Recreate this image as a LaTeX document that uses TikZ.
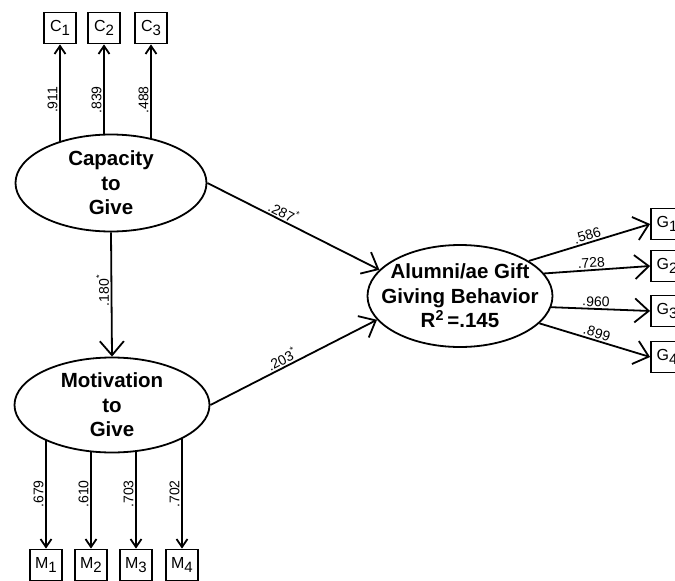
\documentclass[tikz,border=0pt]{standalone}
\usepackage{fontspec}
\setmainfont{Liberation Sans}
\usetikzlibrary{shapes.geometric,arrows.meta,backgrounds}

\tikzset{
  latent/.style={ellipse, draw, line width=1.8pt, fill=white, inner sep=-20pt,
    align=center, font=\fontsize{20.5}{24.5}\selectfont\bfseries},
  manifest/.style={draw, line width=1.8pt, fill=white, minimum width=32pt,
    minimum height=31pt, inner sep=0pt, font=\fontsize{16}{16}\selectfont},
  causal/.style={line width=1.8pt, -{Straight Barb[length=14pt,width=24pt,line width=1.8pt]}},
  loading/.style={line width=1.8pt, -{Straight Barb[length=8pt,width=11pt,line width=1.8pt]}},
  coef/.style={font=\fontsize{14}{14}\selectfont, inner sep=1.5pt},
}
\newcommand{\ind}[2]{#1\raisebox{-0.55ex}{\fontsize{15}{15}\selectfont#2}}
\newcommand{\sig}[1]{#1\raisebox{0.9ex}{\fontsize{9}{9}\selectfont*}}

\begin{document}
\begin{tikzpicture}[x=1pt,y=-1pt]
    \useasboundingbox (0,0) rectangle (675,581);
    % latent variables
    \node[latent, minimum width=191pt, minimum height=97pt] (cap) at (111,183) {Capacity\\to\\Give};
    \node[latent, minimum width=195pt, minimum height=95pt] (mot) at (112,405) {Motivation\\to\\Give};
    \node[latent, minimum width=185pt, minimum height=102pt] (alum) at (460,296)
        {Alumni/ae Gift\\Giving Behavior\\R\textsuperscript{2}\,=.145};
    % indicators
    \node[manifest] (c1) at (60,28) {\ind{C}{1}};
    \node[manifest] (c2) at (104,28) {\ind{C}{2}};
    \node[manifest] (c3) at (151,28) {\ind{C}{3}};
    \node[manifest] (m1) at (46,565) {\ind{M}{1}};
    \node[manifest] (m2) at (91,565) {\ind{M}{2}};
    \node[manifest] (m3) at (136,565) {\ind{M}{3}};
    \node[manifest] (m4) at (182,565) {\ind{M}{4}};
    \node[manifest] (g1) at (667,224) {\ind{G}{1}};
    \node[manifest] (g2) at (667,266) {\ind{G}{2}};
    \node[manifest] (g3) at (667,311) {\ind{G}{3}};
    \node[manifest] (g4) at (667,357) {\ind{G}{4}};
    % loadings
    \begin{scope}[on background layer]
        \draw[loading] (cap.center -| c1) -- (c1.south) node[coef, pos=0.6, rotate=90, anchor=south] {.911};
        \draw[loading] (cap.center -| c2) -- (c2.south) node[coef, pos=0.6, rotate=90, anchor=south] {.839};
        \draw[loading] (cap.center -| c3) -- (c3.south) node[coef, pos=0.6, rotate=90, anchor=south] {.488};
        \draw[loading] (mot.center -| m1) -- (m1.north) node[coef, pos=0.62, rotate=90, anchor=south] {.679};
        \draw[loading] (mot.center -| m2) -- (m2.north) node[coef, pos=0.62, rotate=90, anchor=south] {.610};
        \draw[loading] (mot.center -| m3) -- (m3.north) node[coef, pos=0.62, rotate=90, anchor=south] {.703};
        \draw[loading] (mot.center -| m4) -- (m4.north) node[coef, pos=0.62, rotate=90, anchor=south] {.702};
    \end{scope}
    \draw[causal] (alum.27) -- (g1.west) node[coef, pos=0.5, sloped, above] {.586};
    \draw[causal] (alum.15) -- (g2.west) node[coef, pos=0.45, sloped, above] {.728};
    \draw[causal] (alum.-7) -- (g3.west) node[coef, pos=0.45, sloped, above] {.960};
    \draw[causal] (alum.-19) -- (g4.west) node[coef, pos=0.5, sloped, above] {.899};
    % structural paths
    \draw[causal] (cap.south) -- (mot.north) node[coef, pos=0.47, rotate=90, anchor=south] {\sig{.180}};
    \draw[causal] (cap.east) -- (alum.162) node[coef, pos=0.42, sloped, above] {\sig{.287}};
    \draw[causal] (mot.east) -- (alum.196) node[coef, pos=0.45, sloped, above] {\sig{.203}};
\end{tikzpicture}
\end{document}
